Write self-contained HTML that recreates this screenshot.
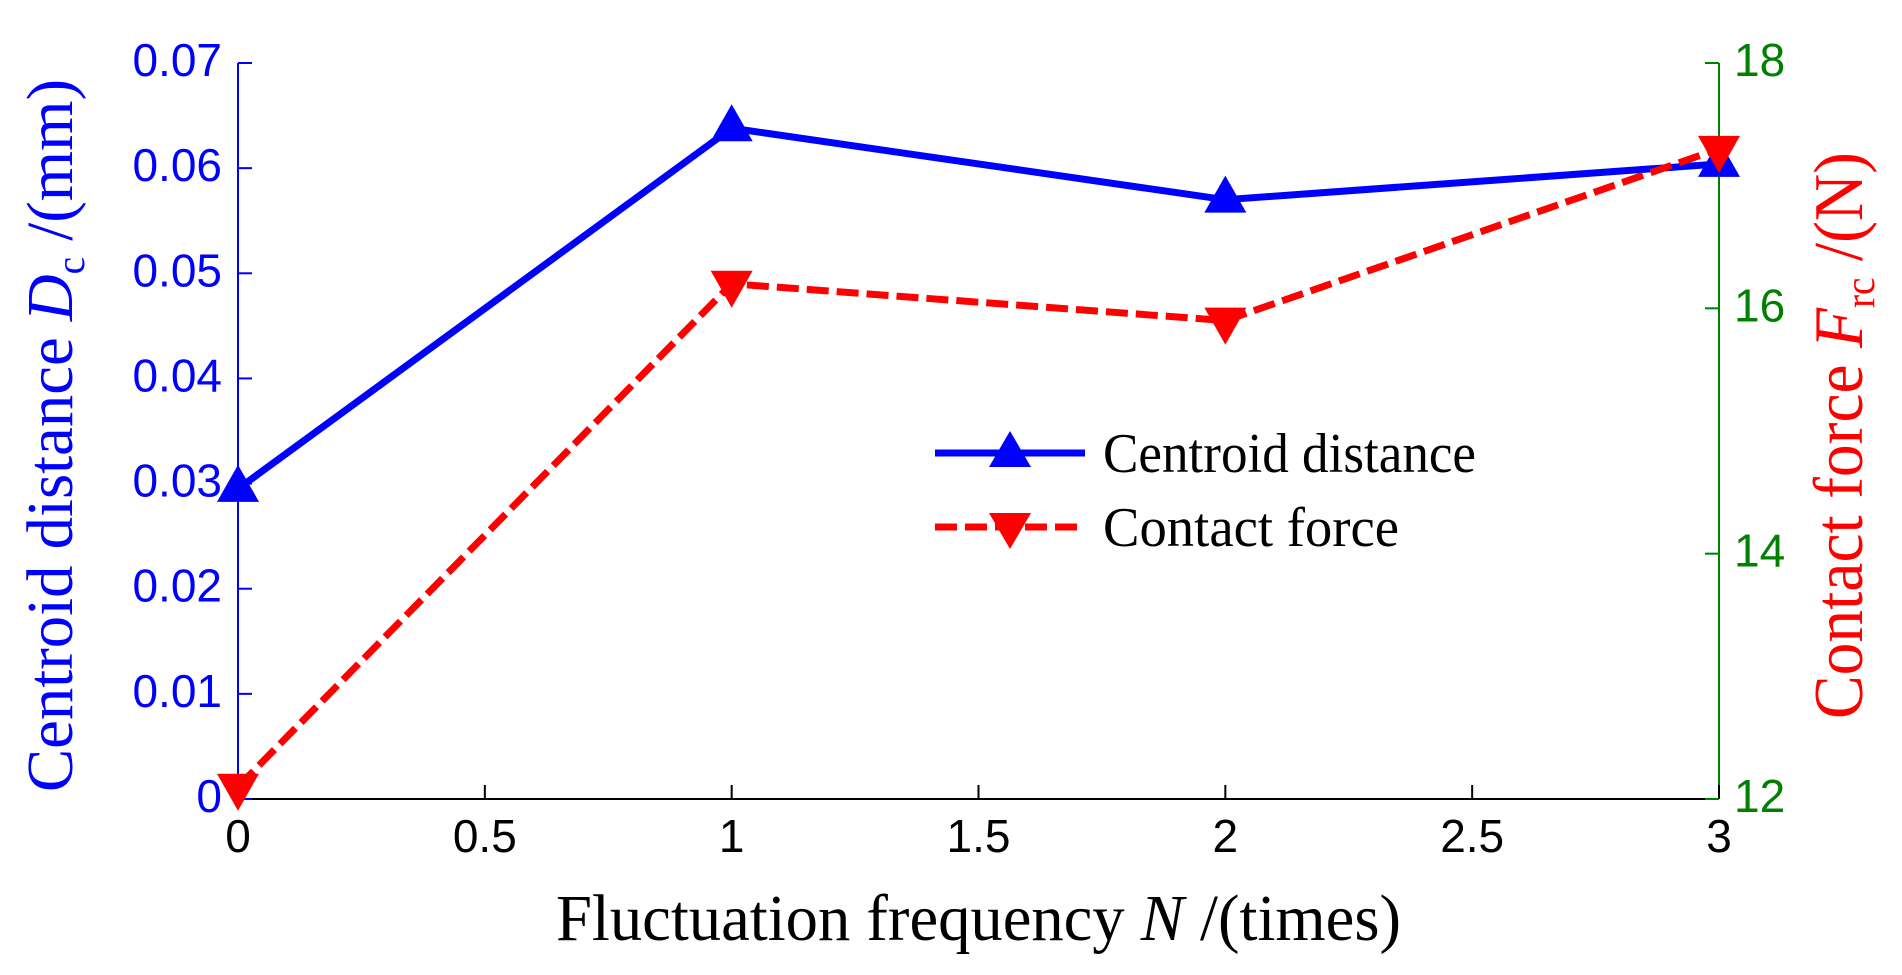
<!DOCTYPE html>
<html><head><meta charset="utf-8"><style>
html,body{margin:0;padding:0;background:#fff;}
svg{display:block;}
</style></head><body>
<svg id="chart" width="1902" height="975" xmlns="http://www.w3.org/2000/svg">
<g id="axes"></g>
<g id="series"></g>
<g id="legend">
  <line x1="935" y1="453" x2="1085" y2="453" stroke="#0000ff" stroke-width="7"/>
  <polygon points="1010,431 989,467 1031,467" fill="#0000ff"/>
  <text x="1103" y="472" font-family="Liberation Serif, serif" font-size="56" fill="#000" textLength="373" lengthAdjust="spacingAndGlyphs">Centroid distance</text>
  <line x1="935" y1="527" x2="1085" y2="527" stroke="#ff0000" stroke-width="7" stroke-dasharray="22,8"/>
  <polygon points="1010,549 989,513 1031,513" fill="#ff0000"/>
  <text x="1103" y="546" font-family="Liberation Serif, serif" font-size="56" fill="#000" textLength="296" lengthAdjust="spacingAndGlyphs">Contact force</text>
</g>
<text x="556" y="940" font-family="Liberation Serif, serif" font-size="66" fill="#000" textLength="845" lengthAdjust="spacingAndGlyphs">Fluctuation frequency <tspan font-style="italic">N</tspan> /(times)</text>
<text transform="translate(72,792) rotate(-90)" font-family="Liberation Serif, serif" font-size="66" fill="#0000ff" textLength="713" lengthAdjust="spacingAndGlyphs">Centroid distance <tspan font-style="italic">D</tspan><tspan font-size="40" dy="12">c</tspan><tspan dy="-12"> /(mm)</tspan></text>
<text transform="translate(1862,719) rotate(-90)" font-family="Liberation Serif, serif" font-size="70" fill="#ff0000" textLength="567" lengthAdjust="spacingAndGlyphs">Contact force <tspan font-style="italic">F</tspan><tspan font-size="42" dy="12">rc</tspan><tspan dy="-12"> /(N)</tspan></text>
</svg>
<script>
const categories = [0, 1, 2, 3];
const centroidDistance = [0.0295, 0.0638, 0.0570, 0.0604];
const contactForce = [12.1, 16.2, 15.9, 17.3];
const xTicks = [0, 0.5, 1, 1.5, 2, 2.5, 3];
const xTickLabels = ["0", "0.5", "1", "1.5", "2", "2.5", "3"];
const leftTicks = [0, 0.01, 0.02, 0.03, 0.04, 0.05, 0.06, 0.07];
const leftTickLabels = ["0", "0.01", "0.02", "0.03", "0.04", "0.05", "0.06", "0.07"];
const rightTicks = [12, 14, 16, 18];
const rightTickLabels = ["12", "14", "16", "18"];

const L = 238, R = 1719, T = 63, B = 799;
const xS = v => L + (v - 0) / 3 * (R - L);
const yL = v => B - v / 0.07 * (B - T);
const yR = v => B - (v - 12) / 6 * (B - T);
const NS = "http://www.w3.org/2000/svg";
const axes = document.getElementById('axes');
const series = document.getElementById('series');
function mk(tag, attrs, parent) {
  const e = document.createElementNS(NS, tag);
  for (const k in attrs) e.setAttribute(k, attrs[k]);
  parent.appendChild(e);
  return e;
}
let e;
e = mk('line', {x1: L, y1: B, x2: R, y2: B, stroke: '#000', 'stroke-width': 2}, axes);


e = mk('line', {x1: L, y1: T, x2: L, y2: B, stroke: '#0000ff', 'stroke-width': 2}, axes);


e = mk('line', {x1: R, y1: T, x2: R, y2: B, stroke: '#008000', 'stroke-width': 2}, axes);


const tf = "Liberation Sans, sans-serif";
xTicks.forEach((t, i) => {
  const x = xS(t);
  e = mk('line', {x1: x, y1: B, x2: x, y2: B - 14, stroke: '#000', 'stroke-width': 2}, axes);
  
  
  e = mk('text', {x: x, y: 852, 'text-anchor': 'middle', 'font-family': tf, 'font-size': 46, fill: '#000'}, axes);
  e.textContent = xTickLabels[i];
  
  
});
leftTicks.forEach((t, i) => {
  const y = yL(t);
  e = mk('line', {x1: L, y1: y, x2: L + 14, y2: y, stroke: '#0000ff', 'stroke-width': 2}, axes);
  
  
  e = mk('text', {x: 222, y: y + 13, 'text-anchor': 'end', 'font-family': tf, 'font-size': 46, fill: '#0000ff'}, axes);
  e.textContent = leftTickLabels[i];
  
  
});
rightTicks.forEach((t, i) => {
  const y = yR(t);
  e = mk('line', {x1: R - 14, y1: y, x2: R, y2: y, stroke: '#008000', 'stroke-width': 2}, axes);
  
  
  e = mk('text', {x: 1734, y: y + 13, 'text-anchor': 'start', 'font-family': tf, 'font-size': 46, fill: '#008000'}, axes);
  e.textContent = rightTickLabels[i];
  
  
});
const cPts = categories.map((c, i) => xS(c) + ',' + yL(centroidDistance[i])).join(' ');
e = mk('polyline', {points: cPts, fill: 'none', stroke: '#0000ff', 'stroke-width': 7, 'stroke-linejoin': 'round'}, series);


const fPts = categories.map((c, i) => xS(c) + ',' + yR(contactForce[i])).join(' ');
e = mk('polyline', {points: fPts, fill: 'none', stroke: '#ff0000', 'stroke-width': 7, 'stroke-dasharray': '22,8'}, series);


categories.forEach((c, i) => {
  const x = xS(c), y = yL(centroidDistance[i]);
  e = mk('polygon', {points: `${x},${y - 24} ${x - 21},${y + 13} ${x + 21},${y + 13}`, fill: '#0000ff'}, series);
  
  
});
categories.forEach((c, i) => {
  const x = xS(c), y = yR(contactForce[i]);
  e = mk('polygon', {points: `${x},${y + 24} ${x - 21},${y - 13} ${x + 21},${y - 13}`, fill: '#ff0000'}, series);
  
  
});
</script>
</body></html>
